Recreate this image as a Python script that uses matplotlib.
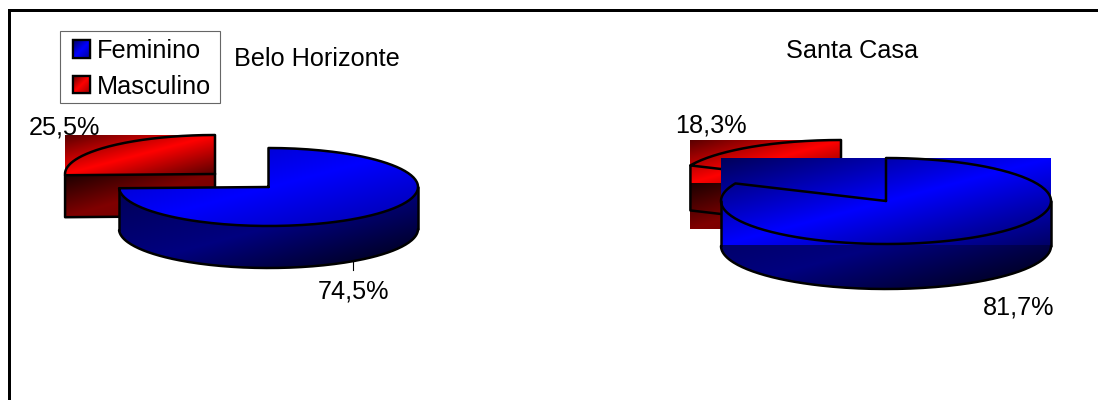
import numpy as np
import matplotlib
matplotlib.use("Agg")
import matplotlib.pyplot as plt
from matplotlib.patches import Patch, PathPatch, Rectangle
from matplotlib.path import Path

plt.rcParams['font.family'] = ['Liberation Sans', 'DejaVu Sans']

categories = ["Feminino", "Masculino"]
titles = ["Belo Horizonte", "Santa Casa"]
belo_horizonte = [74.5, 25.5]
santa_casa = [81.7, 18.3]
labels_bh = ["74,5%", "25,5%"]
labels_sc = ["81,7%", "18,3%"]

BLUE = np.array([0, 0, 255]) / 255
RED = np.array([255, 0, 0]) / 255
FS = 18.2
LW = 1.8

fig = plt.figure(figsize=(10.98, 4.0), dpi=100, facecolor='white')
ax = fig.add_axes([0, 0, 1, 1])
ax.set_xlim(0, 1098)
ax.set_ylim(400, 0)
ax.axis('off')


def arc(c, rx, ry, a0, a1, dy=0, n=160):
    t = np.radians(np.linspace(a0, a1, n))
    return np.column_stack([c[0] + rx * np.cos(t), c[1] + dy - ry * np.sin(t)])


def gradient(color, lo, mid, hi, box, z, clip=None):
    x0, x1, y0, y1 = box
    n = 200
    xx, yy = np.meshgrid(np.linspace(0, 1, n), np.linspace(0, 1, n))
    t = (xx + yy) / 2
    v = np.where(t < .5, lo + (mid - lo) * t / .5, mid + (hi - mid) * (t - .5) / .5)
    img = np.clip(v[..., None] * color, 0, 1)
    im = ax.imshow(img, extent=(x0, x1, y1, y0), aspect='auto', zorder=z,
                   interpolation='bilinear')
    if clip is not None:
        im.set_clip_path(PathPatch(clip, transform=ax.transData))
    return im


def closed(pts):
    pts = np.vstack([pts, pts[:1]])
    codes = [Path.MOVETO] + [Path.LINETO] * (len(pts) - 2) + [Path.CLOSEPOLY]
    return Path(pts, codes)


def outline(pts, z):
    ax.plot(pts[:, 0], pts[:, 1], color='black', lw=LW, zorder=z,
            solid_capstyle='round', solid_joinstyle='round')


def blue_slice(value, c, rx, ry, d, z, clip_top, lo, hi):
    end = 90 - 360 * value / 100
    box = (c[0] - rx, c[0] + rx, c[1] - ry, c[1] + ry + 1)
    low = max(end, -180)
    side = np.vstack([arc(c, rx, ry, 0, low), arc(c, rx, ry, low, 0, d)])
    gradient(BLUE, .34, .50, .05, (c[0] - rx, c[0] + rx, c[1], c[1] + ry + d), z,
             clip=closed(side))
    top = np.vstack([[c], arc(c, rx, ry, 90, end)])
    gradient(BLUE, lo, 1, hi, box, z + .1, clip=closed(top) if clip_top else None)
    outline(np.vstack([top, top[:1]]), z + .2)
    outline(arc(c, rx, ry, low, 0, d), z + .2)
    outline(np.array([[c[0] + rx, c[1]], [c[0] + rx, c[1] + d]]), z + .2)
    lp = arc(c, rx, ry, low, low)
    outline(np.vstack([lp[:1], lp[:1] + [0, d]]), z + .2)


def red_slice(value, c, rx, ry, d, z):
    end = 90 + 360 * value / 100
    left = c[0] + rx * min(np.cos(np.radians(end)), 0)
    gradient(RED, .10, .50, .45, (left, c[0], c[1], c[1] + d + 1), z)
    gradient(RED, .35, 1, .35, (left, c[0], c[1] - ry, c[1]), z + .1)
    top = np.vstack([[c], arc(c, rx, ry, 90, end)])
    outline(np.vstack([top, top[:1]]), z + .2)
    p = top[-1]
    outline(np.vstack([p, p + [0, d], np.array(c) + [0, d], c]), z + .2)


# Belo Horizonte
ax.text(29, 135, labels_bh[1], fontsize=FS, va='baseline', ha='left', zorder=1)
red_slice(belo_horizonte[1], (215, 174), 150, 39, 42, 2)
blue_slice(belo_horizonte[0], (268.5, 187), 149.5, 39, 42, 3, True, .70, .65)
ax.plot([353, 353], [262, 270], color='black', lw=.8, zorder=1)
ax.text(318, 299, labels_bh[0], fontsize=FS, va='baseline', ha='left')
ax.text(234, 66, titles[0], fontsize=FS, va='baseline', ha='left')

# Santa Casa
ax.text(675, 133, labels_sc[1], fontsize=FS, va='baseline', ha='left', zorder=1)
red_slice(santa_casa[1], (841, 183), 165, 43, 45, 2)
blue_slice(santa_casa[0], (886, 201), 165, 43, 45, 3, False, .35, .40)
ax.text(983, 314, labels_sc[0], fontsize=FS, va='baseline', ha='left')
ax.text(852, 58.5, titles[1], fontsize=FS, va='baseline', ha='center')

# Chart frame
frame, = ax.plot([9.5, 9.5, 1098], [400, 10.5, 10.5], color='black', lw=2.16, zorder=9,
                 solid_joinstyle='miter', clip_on=False)
frame.set_snap(False)

# Legend
ax.add_patch(Rectangle((59.5, 31), 160, 72, fc='white', ec='#666666', lw=.8, zorder=4.5))
handles = [Patch(facecolor=col, edgecolor='black', linewidth=1.6, label=cat)
           for col, cat in zip((BLUE, RED), categories)]
leg = ax.legend(handles=handles, loc='upper left',
                bbox_to_anchor=(73 / 1098, 1 - 39 / 400), fontsize=FS,
                frameon=False, borderaxespad=0, borderpad=0, labelspacing=.46,
                handlelength=.68, handleheight=.68, handletextpad=.28)
leg.set_zorder(5)
fig.canvas.draw()
inv = ax.transData.inverted()
for h, col in zip(leg.get_patches(), (BLUE, RED)):
    bb = h.get_window_extent().transformed(inv)
    x0, x1 = sorted((bb.x0, bb.x1))
    y0, y1 = sorted((bb.y0, bb.y1))
    gradient(col, .35, 1, .6, (x0, x1, y0, y1), 6)
    ax.add_patch(Rectangle((x0, y0), x1 - x0, y1 - y0, fill=False, ec='black',
                           lw=1.6, zorder=7))

ax.set_xlim(0, 1098)
ax.set_ylim(400, 0)
fig.savefig('out.png', dpi=100, facecolor='white')
